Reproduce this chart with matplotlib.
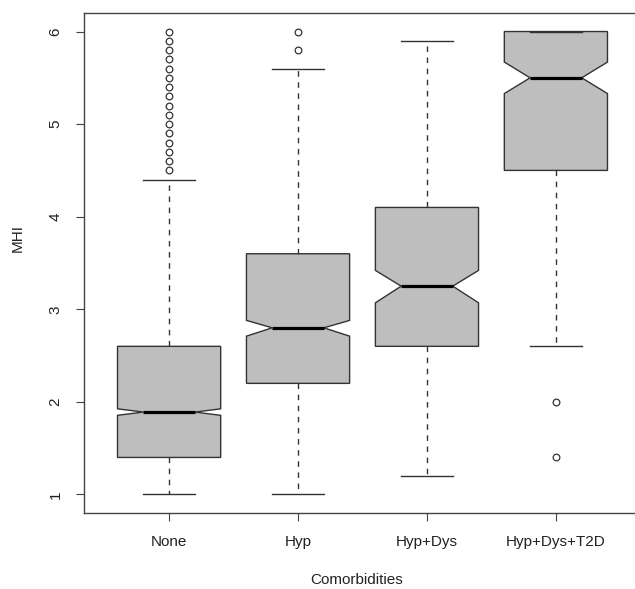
import matplotlib
matplotlib.use("Agg")
import matplotlib.pyplot as plt

# values (notched boxplot, R style)
categories = ["None", "Hyp", "Hyp+Dys", "Hyp+Dys+T2D"]
whislo = [1.0, 1.0, 1.2, 2.6]
q1 = [1.4, 2.2, 2.6, 4.5]
med = [1.89, 2.8, 3.25, 5.5]
q3 = [2.6, 3.6, 4.1, 6.0]
whishi = [4.4, 5.6, 5.9, 6.0]
cilo = [1.855, 2.71, 3.07, 5.33]
cihi = [1.925, 2.88, 3.42, 5.67]
fliers = [
    [4.5, 4.6, 4.7, 4.8, 4.9, 5.0, 5.1, 5.2, 5.3, 5.4, 5.5, 5.6, 5.7, 5.8, 5.9, 6.0],
    [5.8, 6.0],
    [],
    [2.0, 1.4],
]
yticks = [1, 2, 3, 4, 5, 6]

plt.rcParams['font.family'] = ['Liberation Sans', 'DejaVu Sans']
edge = '#333333'

fig = plt.figure(figsize=(6.35, 5.89), dpi=100)
W, H = 635, 589
# plot region in pixels: left 84, right 641 (past the edge), top 13, bottom 513
ax = fig.add_axes([84 / W, (H - 513) / H, 557 / W, 500 / H])

stats = []
for i, c in enumerate(categories):
    stats.append(dict(label=c, whislo=whislo[i], q1=q1[i], med=med[i], q3=q3[i],
                      whishi=whishi[i], cilo=cilo[i], cihi=cihi[i], fliers=fliers[i]))

ax.bxp(stats, positions=range(1, len(categories) + 1), widths=0.8, capwidths=0.4,
       shownotches=True, patch_artist=True,
       boxprops=dict(facecolor='#bebebe', edgecolor=edge, linewidth=1.0),
       medianprops=dict(color='black', linewidth=2.3, solid_capstyle='butt'),
       whiskerprops=dict(color=edge, linewidth=1.0, linestyle=(0, (4, 4))),
       capprops=dict(color=edge, linewidth=1.0),
       flierprops=dict(marker='o', markersize=4.8, markerfacecolor='none',
                       markeredgecolor=edge, markeredgewidth=0.9, linestyle='none'))

ax.set_xlim(0.34, 4.66)
ax.set_ylim(0.8, 6.2)
ax.set_yticks(yticks)
ax.set_yticklabels([str(v) for v in yticks], rotation=90, va='center')

for s in ax.spines.values():
    s.set_color('#444444')
    s.set_linewidth(1.0)

ax.tick_params(axis='both', direction='out', length=5.5, width=0.8, color='#444444',
               labelsize=11, labelcolor='#222222')
ax.tick_params(axis='y', pad=10)
ax.tick_params(axis='x', pad=10)

ax.set_xlabel('Comorbidities', fontsize=11, color='#222222')
ax.set_ylabel('MHI', fontsize=11, color='#222222')
ax.xaxis.set_label_coords((357 - 84) / 557, -0.119)
ax.yaxis.set_label_coords(-0.106, 0.55)

fig.savefig('out.png', dpi=100)
